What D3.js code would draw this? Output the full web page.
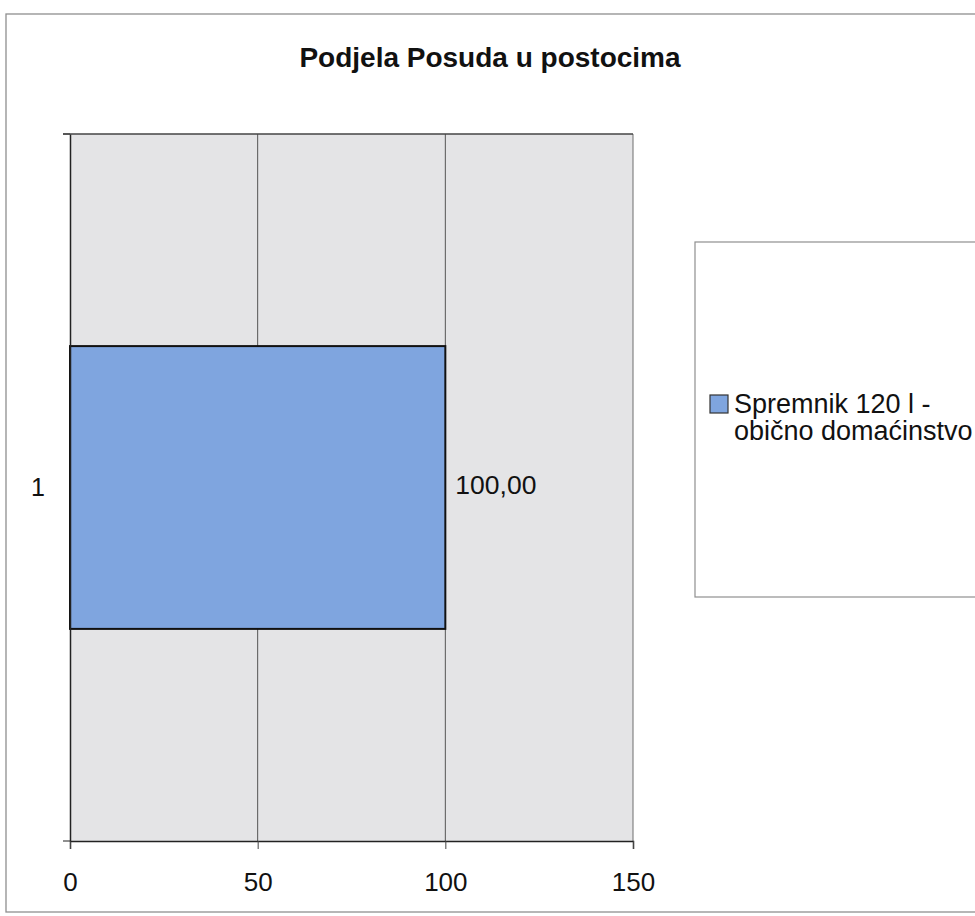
<!DOCTYPE html>
<html>
<head>
<meta charset="utf-8">
<script src="https://cdn.jsdelivr.net/npm/d3@7"></script>
<style>
  html, body { margin: 0; padding: 0; background: #ffffff; }
  svg { display: block; }
  text { font-family: "Liberation Sans", Arial, sans-serif; fill: #111; }
</style>
</head>
<body>
<svg id="chart" width="975" height="916"></svg>
<script>
// ---- data ----
const chartTitle = "Podjela Posuda u postocima";
const categories = ["1"];
const seriesNames = ["Spremnik 120 l -\nobično domaćinstvo"];
const seriesValues = [100];
const valueLabels = ["100,00"];
const xTickValues = [0, 50, 100, 150];
const xDomain = [0, 150];

// ---- layout ----
const svg = d3.select("#chart");
const plot = { left: 70, right: 633, top: 134, bottom: 841 };

// outer chart border
svg.append("rect")
  .attr("x", 6).attr("y", 14).attr("width", 1000).attr("height", 898)
  .attr("fill", "#ffffff").attr("stroke", "#8f8f8f").attr("stroke-width", 1.3);

// title
svg.append("text")
  .attr("x", 490).attr("y", 67)
  .attr("text-anchor", "middle")
  .attr("font-size", 28).attr("font-weight", "bold")
  .text(chartTitle);

const x = d3.scaleLinear().domain(xDomain).range([plot.left, plot.right]);
const y = d3.scaleBand().domain(categories).range([plot.top, plot.bottom])
  .paddingInner(0.6).paddingOuter(0.3);

// plot area background
svg.append("rect")
  .attr("x", plot.left).attr("y", plot.top)
  .attr("width", plot.right - plot.left).attr("height", plot.bottom - plot.top)
  .attr("fill", "#e4e4e6");

// vertical gridlines
svg.append("g")
  .selectAll("line")
  .data(xTickValues.filter(d => d > 0))
  .join("line")
  .attr("x1", d => x(d)).attr("x2", d => x(d))
  .attr("y1", plot.top).attr("y2", plot.bottom)
  .attr("stroke", d => d === xDomain[1] ? "#6f6f6f" : "#555")
  .attr("stroke-width", 1);

// top border of plot
svg.append("line")
  .attr("x1", plot.left - 7).attr("x2", plot.right)
  .attr("y1", plot.top).attr("y2", plot.top)
  .attr("stroke", "#444").attr("stroke-width", 1.5);

// bars
svg.append("g")
  .selectAll("rect")
  .data(seriesValues)
  .join("rect")
  .attr("x", x(0))
  .attr("y", (d, i) => y(categories[i]))
  .attr("width", d => x(d) - x(0))
  .attr("height", y.bandwidth())
  .attr("fill", "#7fa5df")
  .attr("stroke", "#111").attr("stroke-width", 2);

// value labels
svg.append("g")
  .selectAll("text")
  .data(seriesValues)
  .join("text")
  .attr("x", d => x(d) + 10)
  .attr("y", (d, i) => y(categories[i]) + y.bandwidth() / 2 + 6)
  .attr("font-size", 26.5)
  .text((d, i) => valueLabels[i]);

// x axis
const xAxis = d3.axisBottom(x).tickValues(xTickValues).tickSize(8).tickPadding(24)
  .tickFormat(d3.format("d"));
const gx = svg.append("g").attr("transform", `translate(0,${plot.bottom})`).call(xAxis);
gx.select(".domain").attr("stroke", "#222").attr("stroke-width", 1.5);
gx.selectAll(".tick line").attr("stroke", "#444");
gx.selectAll(".tick text").attr("font-size", 26).attr("fill", "#111")
  .attr("font-family", "Liberation Sans, Arial, sans-serif");

// y axis (category)
const yAxis = d3.axisLeft(y).tickSize(0).tickPadding(25);
const gy = svg.append("g").attr("transform", `translate(${plot.left},0)`).call(yAxis);
gy.select(".domain").attr("stroke", "#222").attr("stroke-width", 1.5);
gy.selectAll(".tick text").attr("font-size", 25).attr("fill", "#111")
  .attr("font-family", "Liberation Sans, Arial, sans-serif");
// category boundary ticks
svg.append("g").selectAll("line")
  .data([plot.top, plot.bottom])
  .join("line")
  .attr("x1", plot.left - 7).attr("x2", plot.left)
  .attr("y1", d => d).attr("y2", d => d)
  .attr("stroke", "#444").attr("stroke-width", 1.2);

// legend
const legend = svg.append("g");
legend.append("rect")
  .attr("x", 695).attr("y", 242).attr("width", 320).attr("height", 355)
  .attr("fill", "#ffffff").attr("stroke", "#8f8f8f").attr("stroke-width", 1.2);
seriesNames.forEach((name, i) => {
  legend.append("rect")
    .attr("x", 710).attr("y", 395).attr("width", 18).attr("height", 18)
    .attr("fill", "#7fa5df").attr("stroke", "#333").attr("stroke-width", 1.2);
  const t = legend.append("text").attr("x", 734).attr("y", 413).attr("font-size", 27);
  name.split("\n").forEach((line, j) => {
    t.append("tspan").attr("x", 734).attr("dy", j === 0 ? 0 : 27).text(line);
  });
});
</script>
</body>
</html>
